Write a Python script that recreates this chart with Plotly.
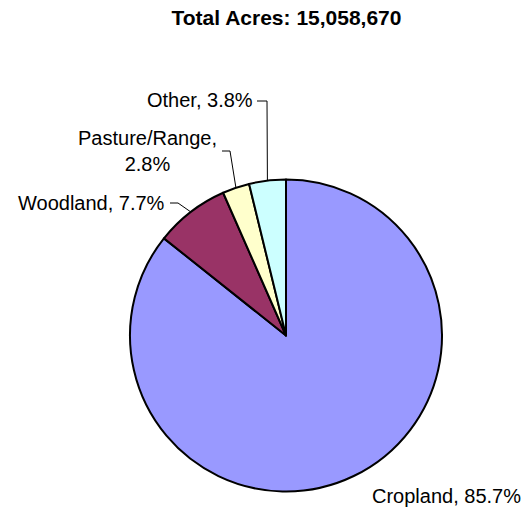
import math
import plotly.graph_objects as go

# Land use shares (percent of total acres)
labels = ["Cropland", "Woodland", "Pasture/Range", "Other"]
values = [85.7, 7.7, 2.8, 3.8]
colors = ["#9999FF", "#993366", "#FFFFCC", "#CCFFFF"]
total_acres = 15058670

W, H = 522, 512
CX, CY, R = 286, 335.5, 156  # pie centre and radius in pixels

FONT = "Liberation Sans, Arial, sans-serif"
LABEL_SIZE = 20

# Label placement: (text anchor x, y, xanchor, knee point, line end) in pixels
label_layout = {
    "Cropland": dict(x=370, y=496, xanchor="left", knee=None, end=None),
    "Woodland": dict(x=167, y=203, xanchor="right", knee=(178, 203), end=(170, 203)),
    "Pasture/Range": dict(x=147, y=151, xanchor="center", knee=(230, 151), end=(222, 151)),
    "Other": dict(x=255, y=100, xanchor="right", knee=(267, 101), end=(257, 101)),
}


def px(x):
    return x / W


def py(y):
    return 1 - y / H


fig = go.Figure(
    go.Pie(
        labels=labels,
        values=values,
        sort=False,
        direction="clockwise",
        rotation=0,
        marker=dict(colors=colors, line=dict(color="black", width=2)),
        textinfo="none",
        hoverinfo="label+percent",
        showlegend=False,
        domain=dict(x=[px(CX - R), px(CX + R)], y=[py(CY + R), py(CY - R)]),
    )
)

annotations = []
shapes = []
tot = sum(values)
cum = 0.0
for lab, val in zip(labels, values):
    mid = (cum + val / 2) / tot * 2 * math.pi
    cum += val
    spec = label_layout[lab]
    text_label = "Pasture/Range," + "<br>" + f"{val:.1f}%" if lab == "Pasture/Range" else f"{lab}, {val:.1f}%"
    annotations.append(
        dict(
            x=px(spec["x"]), y=py(spec["y"]), xref="paper", yref="paper",
            text=text_label, showarrow=False, xanchor=spec["xanchor"], yanchor="middle",
            align="center", font=dict(family=FONT, size=LABEL_SIZE, color="black"),
        )
    )
    if spec["knee"] is not None:
        ex = CX + R * math.sin(mid)
        ey = CY - R * math.cos(mid)
        kx, ky = spec["knee"]
        lx, ly = spec["end"]
        shapes.append(
            dict(
                type="path", xref="paper", yref="paper",
                path=f"M {px(ex)} {py(ey)} L {px(kx)} {py(ky)} L {px(lx)} {py(ly)}",
                line=dict(color="black", width=1),
            )
        )

fig.update_layout(
    width=W, height=H,
    margin=dict(l=0, r=0, t=0, b=0),
    paper_bgcolor="white",
    plot_bgcolor="white",
    title=dict(
        text=f"<b>Total Acres: {total_acres:,}</b>",
        x=px(286.5), y=py(18), xanchor="center", yanchor="middle",
        font=dict(family=FONT, size=21, color="black"),
    ),
    annotations=annotations,
    shapes=shapes,
)

fig.write_html("out.html")
